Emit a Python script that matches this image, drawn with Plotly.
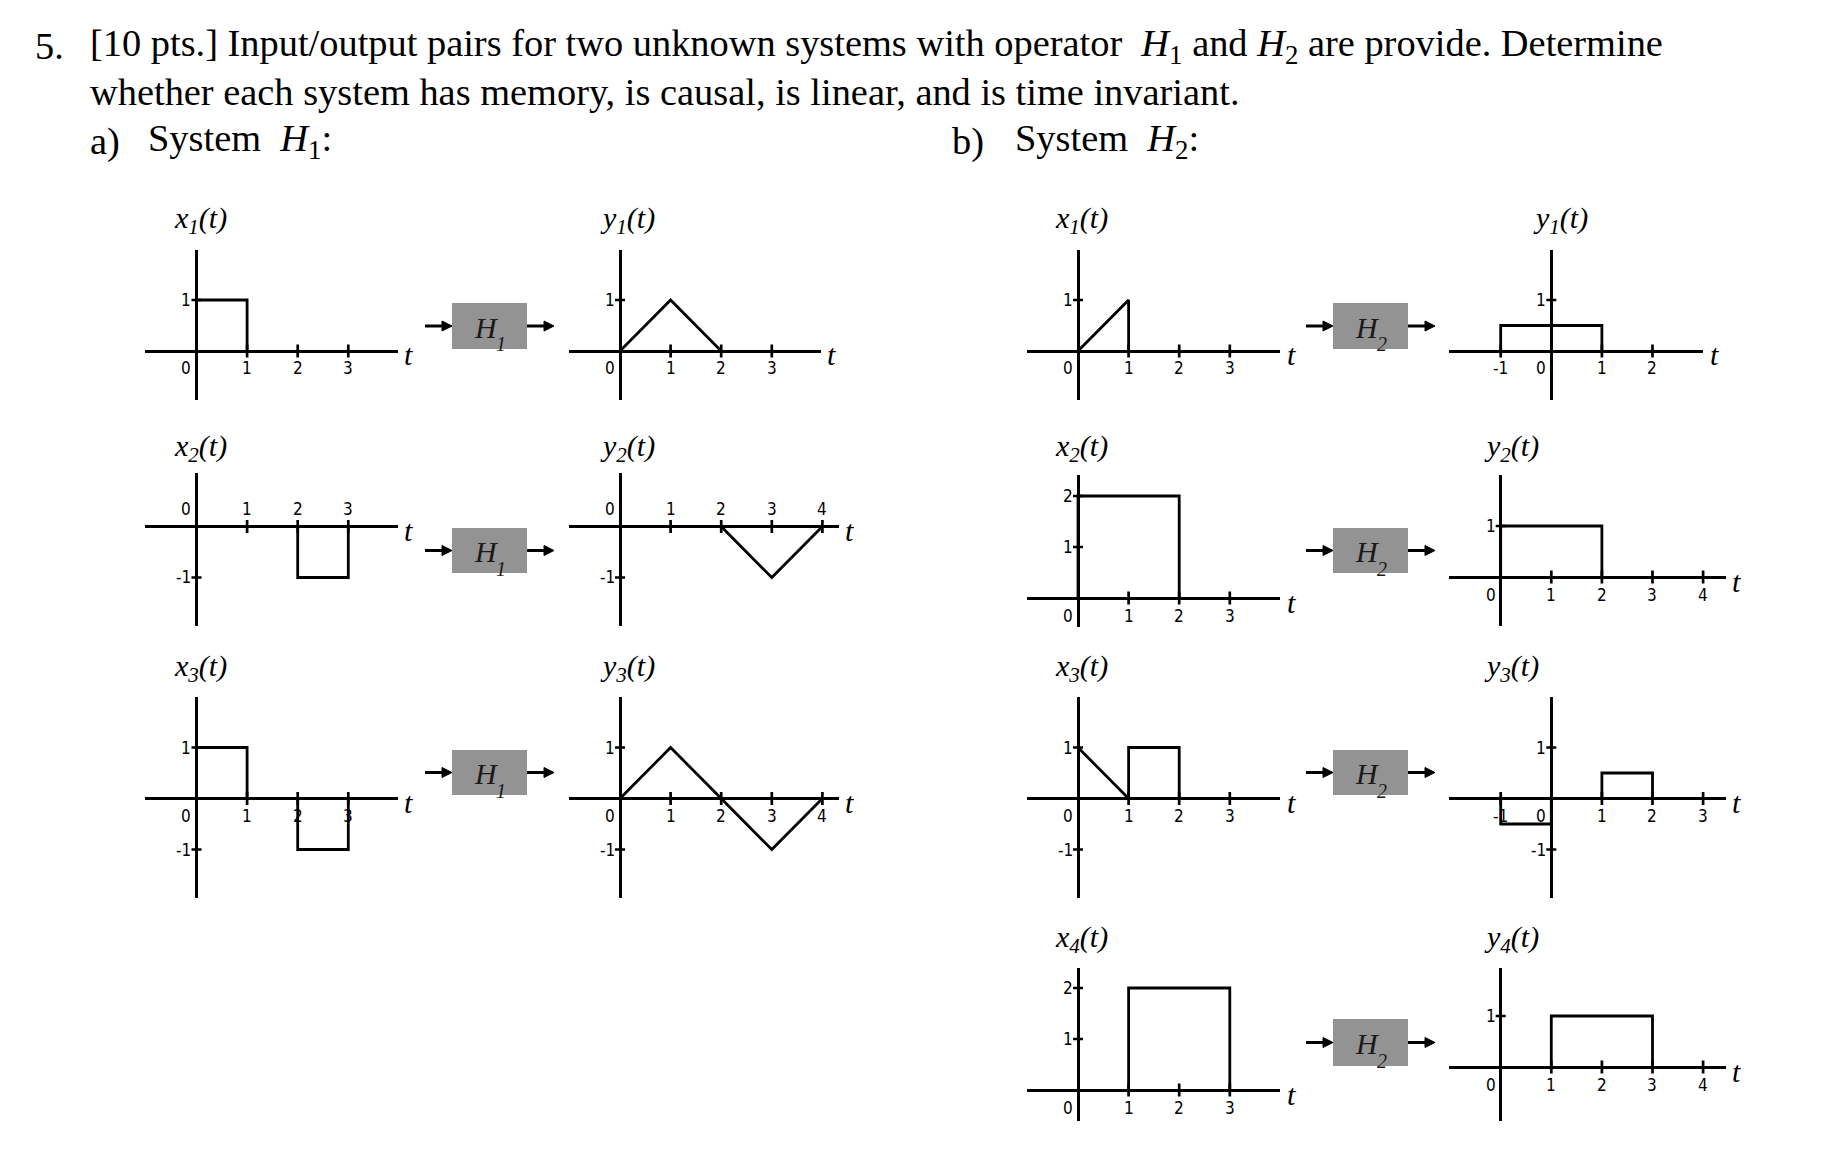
import plotly.graph_objects as go

W, H = 1847, 1173
OFF = 8  # page body margin of the written html

# ---------------- data (signal breakpoints, in axis units) ----------------
# System H1
h1_x1_t = [0, 0, 1, 1]
h1_x1_v = [0, 1, 1, 0]
h1_y1_t = [0, 1, 2]
h1_y1_v = [0, 1, 0]
h1_x2_t = [2, 2, 3, 3]
h1_x2_v = [0, -1, -1, 0]
h1_y2_t = [2, 3, 4]
h1_y2_v = [0, -1, 0]
h1_x3_t = [0, 0, 1, 1, 2, 2, 3, 3]
h1_x3_v = [0, 1, 1, 0, 0, -1, -1, 0]
h1_y3_t = [0, 1, 2, 3, 4]
h1_y3_v = [0, 1, 0, -1, 0]
# System H2
h2_x1_t = [0, 1, 1]
h2_x1_v = [0, 1, 0]
h2_y1_t = [-1, -1, 1, 1]
h2_y1_v = [0, 0.5, 0.5, 0]
h2_x2_t = [0, 0, 2, 2]
h2_x2_v = [0, 2, 2, 0]
h2_y2_t = [0, 0, 2, 2]
h2_y2_v = [0, 1, 1, 0]
h2_x3_t = [0, 1, 1, 2, 2]
h2_x3_v = [1, 0, 1, 1, 0]
h2_y3_t = [-1, -1, 0, 0, None, 1, 1, 2, 2]
h2_y3_v = [0, -0.5, -0.5, 0, None, 0, 0.5, 0.5, 0]
h2_x4_t = [1, 1, 3, 3]
h2_x4_v = [0, 2, 2, 0]
h2_y4_t = [1, 1, 3, 3]
h2_y4_v = [0, 1, 1, 0]

# tick values
xt_0to3 = [0, 1, 2, 3]
xt_0to4 = [0, 1, 2, 3, 4]
xt_m1to2 = [-1, 0, 1, 2]
xt_m1to3 = [-1, 0, 1, 2, 3]
yt_1 = [1]
yt_m1 = [-1]
yt_pm1 = [1, -1]
yt_12 = [1, 2]

# ---------------- layout (pixels) ----------------
UX, UY = 50.6, 51.0
plots = [
    dict(t=h1_x1_t, v=h1_x1_v, ox=196.5, oy=351, xr=(-1.02, 3.98), yr=(-0.97, 1.99), xt=xt_0to3, yt=yt_1, side=-1, lab="x", sub="1", lp=(200, 220)),
    dict(t=h1_y1_t, v=h1_y1_v, ox=620, oy=351, xr=(-1.0, 3.97), yr=(-0.97, 1.99), xt=xt_0to3, yt=yt_1, side=-1, lab="y", sub="1", lp=(627, 220)),
    dict(t=h1_x2_t, v=h1_x2_v, ox=196.5, oy=526.5, xr=(-1.02, 3.98), yr=(-1.96, 1.04), xt=xt_0to3, yt=yt_m1, side=1, lab="x", sub="2", lp=(200, 447.6)),
    dict(t=h1_y2_t, v=h1_y2_v, ox=620, oy=526.5, xr=(-1.0, 4.32), yr=(-1.96, 1.04), xt=xt_0to4, yt=yt_m1, side=1, lab="y", sub="2", lp=(627, 447.6)),
    dict(t=h1_x3_t, v=h1_x3_v, ox=196.5, oy=798.5, xr=(-1.02, 3.98), yr=(-1.96, 1.99), xt=xt_0to3, yt=yt_pm1, side=-1, lab="x", sub="3", lp=(200, 667.8)),
    dict(t=h1_y3_t, v=h1_y3_v, ox=620, oy=798.5, xr=(-1.0, 4.32), yr=(-1.96, 1.99), xt=xt_0to4, yt=yt_pm1, side=-1, lab="y", sub="3", lp=(627, 667.8)),
    dict(t=h2_x1_t, v=h2_x1_v, ox=1078, oy=351, xr=(-1.0, 4.0), yr=(-0.97, 1.99), xt=xt_0to3, yt=yt_1, side=-1, lab="x", sub="1", lp=(1081.4, 220)),
    dict(t=h2_y1_t, v=h2_y1_v, ox=1551.3, oy=351, xr=(-2.02, 3.0), yr=(-0.97, 1.99), xt=xt_m1to2, yt=yt_1, side=-1, lab="y", sub="1", lp=(1560.8, 220)),
    dict(t=h2_x2_t, v=h2_x2_v, ox=1078, oy=598, xr=(-1.0, 4.0), yr=(-0.56, 2.42), xt=xt_0to3, yt=yt_12, side=-1, lab="x", sub="2", lp=(1081.4, 447.6)),
    dict(t=h2_y2_t, v=h2_y2_v, ox=1500.7, oy=577, xr=(-1.02, 4.45), yr=(-0.97, 2.0), xt=xt_0to4, yt=yt_1, side=-1, lab="y", sub="2", lp=(1511.3, 447.6)),
    dict(t=h2_x3_t, v=h2_x3_v, ox=1078, oy=798.5, xr=(-1.0, 4.0), yr=(-1.96, 1.99), xt=xt_0to3, yt=yt_pm1, side=-1, lab="x", sub="3", lp=(1081.4, 667.8)),
    dict(t=h2_y3_t, v=h2_y3_v, ox=1551.3, oy=798.5, xr=(-2.02, 3.45), yr=(-1.96, 1.99), xt=xt_m1to3, yt=yt_pm1, side=-1, lab="y", sub="3", lp=(1511.3, 667.8)),
    dict(t=h2_x4_t, v=h2_x4_v, ox=1078, oy=1090, xr=(-1.0, 4.0), yr=(-0.6, 2.39), xt=xt_0to3, yt=yt_12, side=-1, lab="x", sub="4", lp=(1081.4, 938.6)),
    dict(t=h2_y4_t, v=h2_y4_v, ox=1500.7, oy=1067, xr=(-1.02, 4.45), yr=(-1.06, 1.94), xt=xt_0to4, yt=yt_1, side=-1, lab="y", sub="4", lp=(1511.3, 938.6)),
]

# block boxes: (left, right, top, bottom, subscript)
boxes = [
    (452, 527, 303, 349, "1"), (452, 527, 528, 573, "1"), (452, 527, 750, 795, "1"),
    (1333, 1408, 303, 349, "2"), (1333, 1408, 528, 573, "2"), (1333, 1408, 750, 795, "2"),
    (1333, 1408, 1019, 1066, "2"),
]
ARROW_LEN, HEAD_LEN, HEAD_HALF = 27, 10, 5

SERIF = "Liberation Serif, Times New Roman, serif"
TICKFONT = dict(family="Liberation Sans Narrow, DejaVu Sans Condensed, Arial Narrow, sans-serif", size=17, color="black")
LABFONT = dict(family=SERIF, size=30, color="black", style="italic")
TITLEFONT = dict(family=SERIF, size=38.4, color="black")


def px(x):
    return (x - OFF) / W


def py(y):
    return 1 - (y - OFF) / H


fig = go.Figure()
annotations = []
shapes = []
axes = {}
axis_style = dict(showgrid=False, showticklabels=False, ticks="", showline=False,
                  zeroline=True, zerolinecolor="black", zerolinewidth=3.2, fixedrange=True)

for i, s in enumerate(plots, start=1):
    xa = "x" if i == 1 else f"x{i}"
    ya = "y" if i == 1 else f"y{i}"
    x0, x1 = s["xr"]
    y0, y1 = s["yr"]
    left = s["ox"] + x0 * UX
    right = s["ox"] + x1 * UX
    top = s["oy"] - y1 * UY
    bottom = s["oy"] - y0 * UY
    axes["xaxis" if i == 1 else f"xaxis{i}"] = dict(domain=[px(left), px(right)], range=[x0, x1], anchor=ya, **axis_style)
    axes["yaxis" if i == 1 else f"yaxis{i}"] = dict(domain=[py(bottom), py(top)], range=[y0, y1], anchor=xa, **axis_style)

    # signal
    fig.add_trace(go.Scatter(x=s["t"], y=s["v"], mode="lines", line=dict(color="black", width=2.8),
                             xaxis=xa, yaxis=ya, hoverinfo="skip", showlegend=False))
    # tick marks
    dy = 6.5 / UY
    dx = 5.0 / UX
    tx, ty = [], []
    for v in s["xt"]:
        if v != 0:
            tx += [v, v, None]
            ty += [-dy, dy, None]
    for v in s["yt"]:
        tx += [-dx, dx, None]
        ty += [v, v, None]
    fig.add_trace(go.Scatter(x=tx, y=ty, mode="lines", line=dict(color="black", width=2.7),
                             xaxis=xa, yaxis=ya, hoverinfo="skip", showlegend=False))
    # tick labels
    for v in s["xt"]:
        annotations.append(dict(xref=xa, yref=ya, x=v, y=0, text=str(v), showarrow=False,
                                xanchor="center", yanchor="middle",
                                xshift=(-10 if v == 0 else 0), yshift=17.5 * s["side"], font=TICKFONT))
    for v in s["yt"]:
        annotations.append(dict(xref=xa, yref=ya, x=0, y=v, text=str(v), showarrow=False,
                                xanchor="right", yanchor="middle", xshift=-3, font=TICKFONT))
    # t label
    annotations.append(dict(xref=xa, yref=ya, x=x1, y=0, text="t", showarrow=False,
                            xanchor="center", yanchor="middle", xshift=11, yshift=-4,
                            font=dict(family=SERIF, size=30, color="black", style="italic")))
    # signal name
    annotations.append(dict(xref="paper", yref="paper", x=px(s["lp"][0]), y=py(s["lp"][1]),
                            text=f"{s['lab']}<sub>{s['sub']}</sub>(t)", showarrow=False,
                            xanchor="center", yanchor="middle", font=LABFONT))

# blocks and arrows
for (l, r, t, b, sub) in boxes:
    cy = (t + b) / 2
    cx = (l + r) / 2
    shapes.append(dict(type="rect", xref="paper", yref="paper", x0=px(l), x1=px(r), y0=py(b), y1=py(t),
                       fillcolor="#939393", line=dict(width=0), layer="above"))
    annotations.append(dict(xref="paper", yref="paper", x=px(cx - 3), y=py(cy + 1), text="H", showarrow=False,
                            xanchor="center", yanchor="middle",
                            font=dict(family=SERIF, size=30, color="#1a1a1a", style="italic")))
    annotations.append(dict(xref="paper", yref="paper", x=px(cx + 11), y=py(cy + 18), text=sub, showarrow=False,
                            xanchor="center", yanchor="middle",
                            font=dict(family=SERIF, size=20, color="#1a1a1a", style="italic")))
    for tip in (l, r + ARROW_LEN):
        tail = tip - ARROW_LEN
        shapes.append(dict(type="line", xref="paper", yref="paper", x0=px(tail), x1=px(tip - HEAD_LEN + 1),
                           y0=py(cy), y1=py(cy), line=dict(color="black", width=3)))
        shapes.append(dict(type="path", xref="paper", yref="paper",
                           path=(f"M {px(tip - HEAD_LEN)},{py(cy - HEAD_HALF)} L {px(tip)},{py(cy)} "
                                 f"L {px(tip - HEAD_LEN)},{py(cy + HEAD_HALF)} Z"),
                           fillcolor="black", line=dict(color="black", width=1)))

# title text
NB = "\u00a0"
title_items = [
    (33, 45.7, "5."),
    (88, 45.7, f"[10 pts.] Input/output pairs for two unknown systems with operator{NB} <i>H</i><sub>1</sub> and <i>H</i><sub>2</sub> are provide. Determine"),
    (88, 92, "whether each system has memory, is causal, is linear, and is time invariant."),
    (88, 141, "a)"),
    (146, 141, f"System{NB} <i>H</i><sub>1</sub>:"),
    (950, 141, "b)"),
    (1013, 141, f"System{NB} <i>H</i><sub>2</sub>:"),
]
for x, y, txt in title_items:
    annotations.append(dict(xref="paper", yref="paper", x=px(x), y=py(y), text=txt, showarrow=False,
                            xanchor="left", yanchor="middle", font=TITLEFONT))

fig.update_layout(
    width=W, height=H, margin=dict(l=0, r=0, t=0, b=0, pad=0),
    paper_bgcolor="white", plot_bgcolor="rgba(0,0,0,0)", showlegend=False,
    annotations=annotations, shapes=shapes, **axes,
)

fig.write_html("out.html")
